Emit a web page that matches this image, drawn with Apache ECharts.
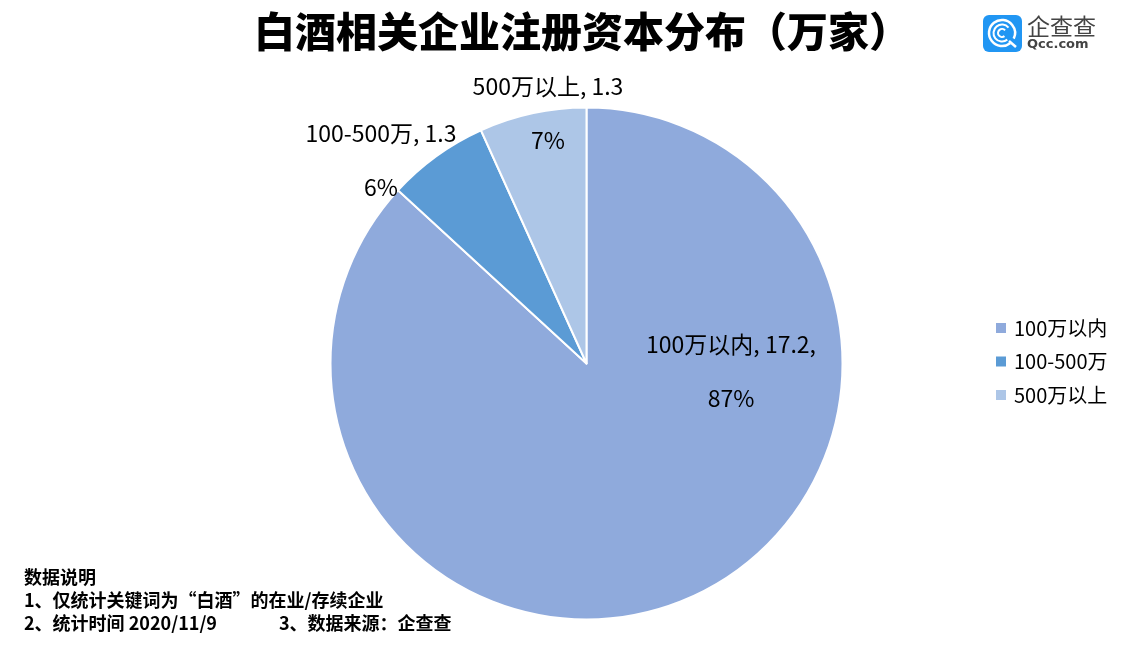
<!DOCTYPE html>
<html>
<head>
<meta charset="utf-8">
<title>白酒相关企业注册资本分布</title>
<script src="https://cdn.jsdelivr.net/npm/echarts@6/dist/echarts.min.js"></script>
<style>
html,body{margin:0;padding:0;background:#fff;}
#main{width:1123px;height:655px;}
</style>
</head>
<body>
<div id="main"></div>
<script>
var categories=['100万以内','100-500万','500万以上'];
var values=[17.2,1.27,1.34];
var colors=['#8faadc','#5b9bd5','#adc6e7'];
var noteLines=['数据说明','1、仅统计关键词为“白酒”的在业/存续企业','2、统计时间 2020/11/9','3、数据来源：企查查'];
var titleText='白酒相关企业注册资本分布（万家）';
var cjk='"Noto Sans CJK SC","Noto Sans",sans-serif';

//标签位置（中心点）
var labelPos=[[731,371],[381,160],[548,113]];

var pieData=[];
for(var i=0;i<categories.length;i++){
    pieData.push({name:categories[i],value:values[i],itemStyle:{color:colors[i]}});
}

function noteText(str,x,y){
    return {type:'text',x:x,y:y,style:{text:str,fill:'#000',font:'bold 18px '+cjk,textVerticalAlign:'middle'}};
}

var myChart=echarts.init(document.getElementById('main'));
var option={
    backgroundColor:'#fff',
    animation:false,
    title:{
        text:titleText,
        left:577,
        top:6,
        textAlign:'center',
        textStyle:{fontFamily:cjk,fontSize:41,fontWeight:900,color:'#000'}
    },
    legend:{
        orient:'vertical',
        left:991,
        top:313,
        icon:'rect',
        itemWidth:10,
        itemHeight:10,
        itemGap:13.5,
        itemStyle:{borderWidth:0},
        textStyle:{fontFamily:cjk,fontSize:20,color:'#000',padding:[0,0,0,3]},
        data:categories
    },
    series:[{
        type:'pie',
        center:[586.5,363.5],
        radius:[0,256],
        startAngle:90,
        silent:true,
        itemStyle:{borderColor:'#fff',borderWidth:2},
        label:{
            show:true,
            position:'inside',
            color:'#000',
            fontFamily:cjk,
            fontSize:23,
            lineHeight:54,
            align:'center',
            formatter:function(p){
                var v=p.value.toFixed(1);
                var sep=p.dataIndex==0?',':'';
                return p.name+', '+v+sep+'\n'+Math.round(p.percent)+'%';
            }
        },
        labelLine:{show:false},
        labelLayout:function(p){
            return {x:labelPos[p.dataIndex][0],y:labelPos[p.dataIndex][1],align:'center',verticalAlign:'middle'};
        },
        data:pieData
    }],
    graphic:[
        noteText(noteLines[0],24,577),
        noteText(noteLines[1],24,600),
        noteText(noteLines[2],24,623),
        noteText(noteLines[3],279,623),
        //企查查 logo
        {type:'rect',shape:{x:983,y:15,width:39,height:37,r:6},style:{fill:'#2196f3'}},
        {type:'arc',shape:{cx:1002,cy:33,r:13,startAngle:0.9,endAngle:0.45,clockwise:true},style:{stroke:'#fff',fill:null,lineWidth:2.5}},
        {type:'arc',shape:{cx:1002,cy:33,r:8.5,startAngle:0.9,endAngle:-0.7,clockwise:true},style:{stroke:'#fff',fill:null,lineWidth:2}},
        {type:'arc',shape:{cx:1002,cy:33,r:4,startAngle:0.9,endAngle:-0.7,clockwise:true},style:{stroke:'#fff',fill:null,lineWidth:2}},
        {type:'line',shape:{x1:1009,y1:41,x2:1016,y2:47},style:{stroke:'#fff',lineWidth:2.5}},
        {type:'text',x:1027,y:26,style:{text:'企查查',fill:'#444',font:'23px '+cjk,textVerticalAlign:'middle'}},
        {type:'text',x:1027,y:45,style:{text:'Qcc.com',fill:'#444',font:'bold 13px "DejaVu Sans",sans-serif',textVerticalAlign:'middle'}}
    ]
};
myChart.setOption(option);
window.addEventListener("resize",function(){
    myChart.resize();
});
</script>
</body>
</html>
